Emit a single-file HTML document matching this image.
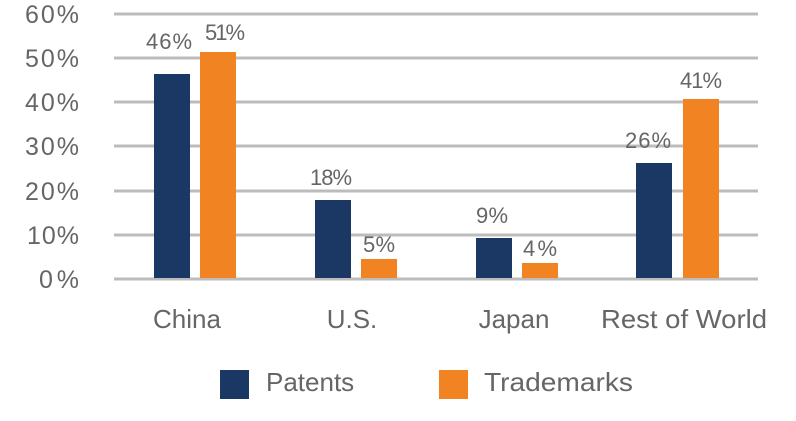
<!DOCTYPE html>
<html><head><meta charset="utf-8"><style>html,body{margin:0;padding:0;background:#fff}svg{display:block}</style></head>
<body>
<svg width="796" height="421" viewBox="0 0 796 421" xmlns="http://www.w3.org/2000/svg" font-family="Liberation Sans, sans-serif" fill="#666">
<g stroke="#bcbcbc" stroke-width="3">
<line x1="114" x2="758" y1="14" y2="14"/><line x1="114" x2="758" y1="58" y2="58"/><line x1="114" x2="758" y1="102" y2="102"/><line x1="114" x2="758" y1="146" y2="146"/><line x1="114" x2="758" y1="191" y2="191"/><line x1="114" x2="758" y1="235" y2="235"/><line x1="114" x2="758" y1="279" y2="279"/>
</g>
<g font-size="25" text-anchor="end">
<text x="79" y="23" textLength="54">60%</text><text x="79" y="67" textLength="54">50%</text><text x="79" y="111" textLength="54">40%</text><text x="79" y="155" textLength="54">30%</text><text x="79" y="200" textLength="54">20%</text><text x="79" y="244" textLength="52">10%</text><text x="79" y="288" textLength="40">0%</text>
</g>
<g fill="#1b3764">
<rect x="154" y="74" width="36" height="204"/><rect x="315" y="200" width="36" height="78"/><rect x="476" y="238" width="36" height="40"/><rect x="636" y="163" width="36" height="115"/>
</g>
<g fill="#f28323">
<rect x="200" y="52" width="36" height="226"/><rect x="361" y="259" width="36" height="19"/><rect x="522" y="263" width="36" height="15"/><rect x="683" y="99" width="36" height="179"/>
</g>
<g font-size="22" text-anchor="middle">
<text x="169" y="49" textLength="46">46%</text><text x="225" y="40" textLength="40">51%</text>
<text x="331" y="185" textLength="42">18%</text><text x="379" y="252" textLength="32">5%</text>
<text x="492" y="223" textLength="32">9%</text><text x="540" y="256" textLength="34">4%</text>
<text x="648" y="148" textLength="46">26%</text><text x="701" y="88" textLength="42">41%</text>
</g>
<g font-size="26" text-anchor="middle">
<text x="187" y="328">China</text><text x="352" y="328">U.S.</text><text x="514" y="328">Japan</text><text x="684" y="328" textLength="166" lengthAdjust="spacingAndGlyphs">Rest of World</text>
</g>
<rect x="220" y="370" width="29" height="29" fill="#1b3764"/>
<rect x="439" y="370" width="29" height="29" fill="#f28323"/>
<g font-size="26"><text x="266" y="391">Patents</text><text x="484" y="391" textLength="149" lengthAdjust="spacingAndGlyphs">Trademarks</text></g>
</svg>
</body></html>
